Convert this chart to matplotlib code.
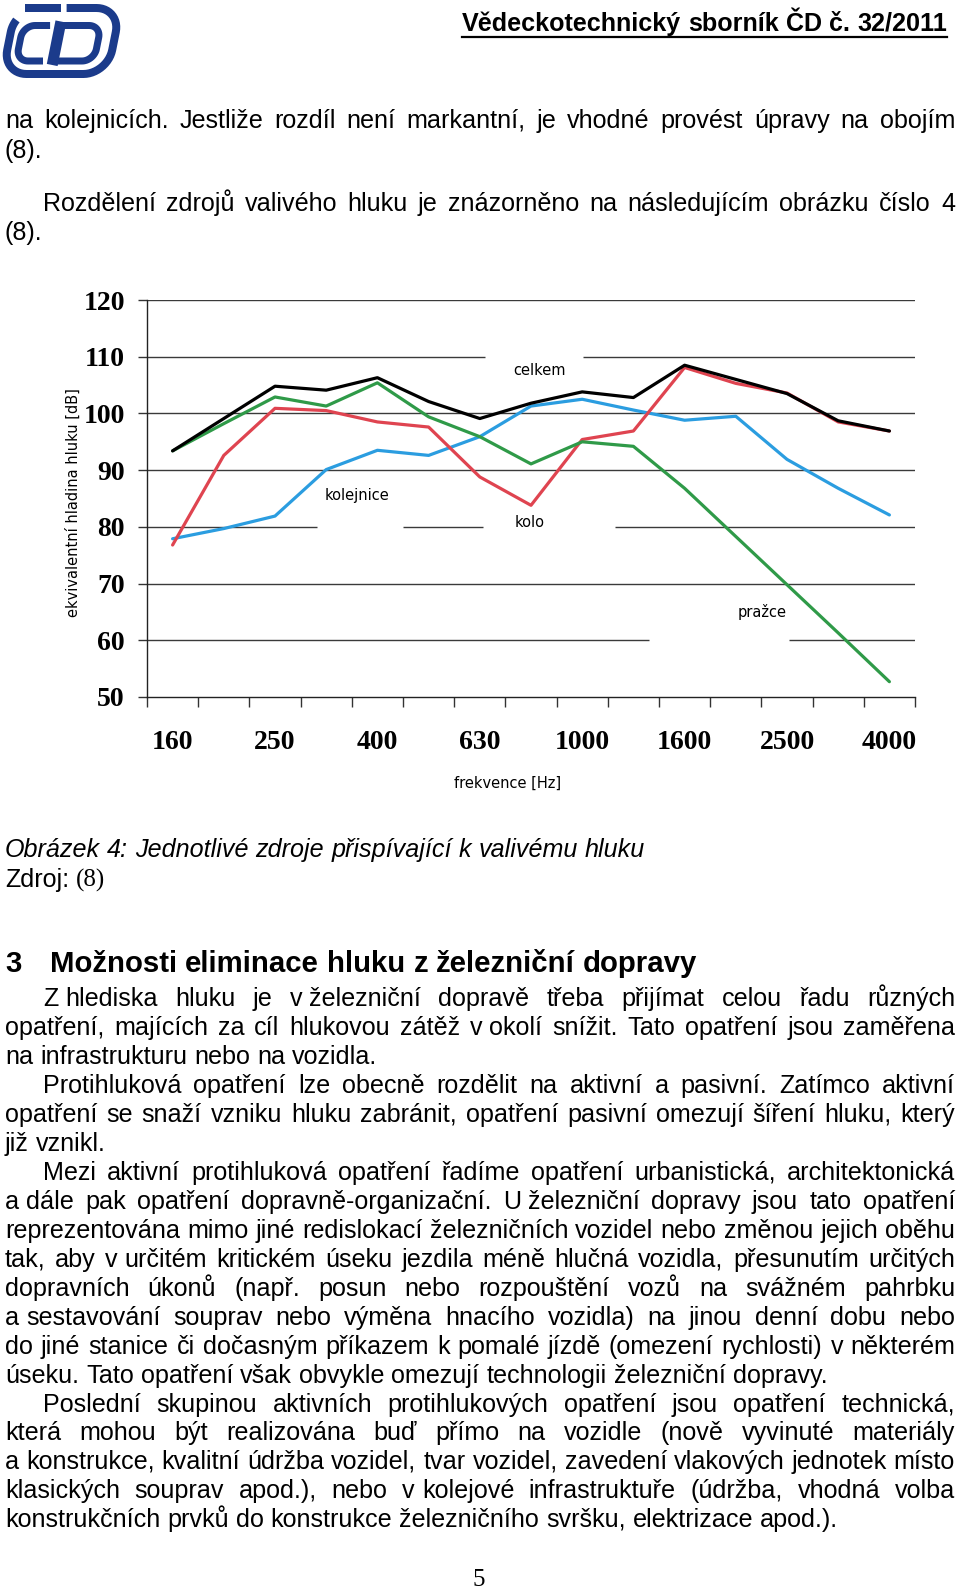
import numpy as np
import matplotlib.pyplot as plt
from matplotlib.path import Path
from matplotlib.patches import PathPatch
from matplotlib.backends.backend_agg import get_hinting_flag

W, H, DPI = 960, 1589, 100

# ---- chart data (dB per 1/3-octave band) ----
bands = ['160', '200', '250', '315', '400', '500', '630', '800',
         '1000', '1250', '1600', '2000', '2500', '3150', '4000']
celkem = [93.4, 99.1, 104.8, 104.1, 106.3, 102.1, 99.1, 101.8,
          103.8, 102.8, 108.5, 106.0, 103.5, 98.7, 96.9]
prazce = [93.4, 98.2, 102.9, 101.3, 105.4, 99.4, 95.9, 91.1,
          95.0, 94.2, 86.8, 78.3, 69.8, 61.3, 52.7]
kolo = [76.8, 92.6, 100.9, 100.5, 98.5, 97.6, 88.8, 83.8,
        95.4, 96.9, 108.1, 105.3, 103.6, 98.5, 96.9]
kolejnice = [77.9, 79.7, 81.9, 90.1, 93.5, 92.6, 95.9, 101.3,
             102.5, 100.6, 98.8, 99.5, 91.9, 86.8, 82.1]
y_ticks = [50, 60, 70, 80, 90, 100, 110, 120]
series_names = ['celkem', 'kolejnice', 'kolo', 'pražce']

# ---- page text ----
header = "Vědeckotechnický sborník ČD č. 32/2011"
top_paragraphs = [
    ["na kolejnicích. Jestliže rozdíl není markantní, je vhodné provést úpravy na obojím",
     "(8)."],
    ["Rozdělení zdrojů valivého hluku je znázorněno na následujícím obrázku číslo 4",
     "(8)."],
]
caption = "Obrázek 4: Jednotlivé zdroje přispívající k valivému hluku"
source_label, source_ref = "Zdroj:", "(8)"
heading_num, heading = "3", "Možnosti eliminace hluku z železniční dopravy"
body_paragraphs = [
    ["Z\u00a0hlediska hluku je v\u00a0železniční dopravě třeba přijímat celou řadu různých",
     "opatření, majících za cíl hlukovou zátěž v\u00a0okolí snížit. Tato opatření jsou zaměřena",
     "na infrastrukturu nebo na vozidla."],
    ["Protihluková opatření lze obecně rozdělit na aktivní a pasivní. Zatímco aktivní",
     "opatření se snaží vzniku hluku zabránit, opatření pasivní omezují šíření hluku, který",
     "již vznikl."],
    ["Mezi aktivní protihluková opatření řadíme opatření urbanistická, architektonická",
     "a\u00a0dále pak opatření dopravně-organizační. U\u00a0železniční dopravy jsou tato opatření",
     "reprezentována mimo jiné redislokací železničních vozidel nebo změnou jejich oběhu",
     "tak, aby v\u00a0určitém kritickém úseku jezdila méně hlučná vozidla, přesunutím určitých",
     "dopravních úkonů (např. posun nebo rozpouštění vozů na svážném pahrbku",
     "a\u00a0sestavování souprav nebo výměna hnacího vozidla) na jinou denní dobu nebo",
     "do jiné stanice či dočasným příkazem k\u00a0pomalé jízdě (omezení rychlosti) v\u00a0některém",
     "úseku. Tato opatření však obvykle omezují technologii železniční dopravy."],
    ["Poslední skupinou aktivních protihlukových opatření jsou opatření technická,",
     "která mohou být realizována buď přímo na vozidle (nově vyvinuté materiály",
     "a\u00a0konstrukce, kvalitní údržba vozidel, tvar vozidel, zavedení vlakových jednotek místo",
     "klasických souprav apod.), nebo v\u00a0kolejové infrastruktuře (údržba, vhodná volba",
     "konstrukčních prvků do konstrukce železničního svršku, elektrizace apod.)."],
]
page_number = "5"

SANS, SERIF = 'Liberation Sans', 'Liberation Serif'
BLUE_LOGO = '#1b3b8b'

fig = plt.figure(figsize=(W / DPI, H / DPI), dpi=DPI)
fig.patch.set_facecolor('white')
renderer = fig.canvas.get_renderer()


def fpos(x, y):
    return x / W, 1 - y / H


def width_of(s, **kw):
    t = fig.text(0, 0, s, **kw)
    w = t.get_window_extent(renderer=renderer).width
    t.remove()
    return w


def fit_size(s, target, base=18, **kw):
    return base * target / width_of(s, fontsize=base, **kw)


def word_text(x, y, s, **kw):
    # Agg rounds (baseline + descent) to whole pixels, so a word with a
    # half-pixel descent (trailing comma) lands one row low; put it back.
    # The 0.1 offset keeps that rounding away from .5 ties.
    yb = round(y) + 0.1
    t = fig.text(*fpos(x, yb), s, va='baseline', **kw)
    font = renderer._prepare_font(t.get_fontproperties())
    font.set_text(s, 0, flags=get_hinting_flag())
    d = font.get_descent() / 64
    ad = font.get_width_height()[1] / 64
    drawn = round(yb + d) - np.floor(ad) + np.floor(ad - d)
    shift = drawn - round(y)
    t.set_y(1 - (yb - shift) / H)
    return t


def put_line(s, y, x0, x1=None, justify=False, align='left', **kw):
    # every word is its own text; words tied by a no-break space keep a plain gap
    sp = width_of('x x', **kw) - width_of('xx', **kw)
    chunks = [c.split('\u00a0') for c in s.split(' ')]
    cw = [[width_of(w, **kw) for w in c] for c in chunks]
    chunk_w = [sum(ws) + sp * (len(ws) - 1) for ws in cw]
    if justify and len(chunks) > 1:
        gap = (x1 - x0 - sum(chunk_w)) / (len(chunks) - 1)
    else:
        gap = sp
    total = sum(chunk_w) + gap * (len(chunks) - 1)
    x = x0 - total if align == 'right' else x0
    for c, ws, wc in zip(chunks, cw, chunk_w):
        xx = x
        for w, wd in zip(c, ws):
            word_text(xx, y, w, **kw)
            xx += wd + sp
        x += wc + gap
    return total


LEFT, RIGHT, INDENT = 5, 955, 38
body_fs = fit_size(body_paragraphs[-1][-1], 832, family=SANS)
body_kw = dict(fontsize=body_fs, family=SANS, color='black')


def put_paragraph(lines, y0, step, indent=True):
    for i, s in enumerate(lines):
        x0 = LEFT + (INDENT if (indent and i == 0) else 0)
        put_line(s, y0 + i * step, x0, RIGHT, i < len(lines) - 1, **body_kw)


# ---- logo ----
lax = fig.add_axes([0, 1 - 85 / H, 125 / W, 85 / H])
lax.set_xlim(0, 125)
lax.set_ylim(85, 0)
lax.axis('off')


def arc(cx, cy, r, a0, a1, n=14):
    a = np.radians(np.linspace(a0, a1, n))
    return list(zip(cx + r * np.cos(a), cy - r * np.sin(a)))


def skewed(pts, k=0.2, ymid=41):
    return [(x + k * (ymid - y), y) for x, y in pts]


def stroke(pts, lw_px):
    p = Path(skewed(pts))
    lax.add_patch(PathPatch(p, fill=False, edgecolor=BLUE_LOGO, lw=lw_px * 0.72,
                            capstyle='butt', joinstyle='round'))


ring = [(60, 8)] + arc(90, 32, 24, 90, 0) + arc(90, 50, 24, 0, -90) \
    + arc(33, 50, 24, -90, -180) + arc(33, 32, 24, 180, 150)
stroke(ring, 8)
stroke([(18, 8), (54, 8)], 8)
c_letter = [(47, 25.5)] + arc(32, 37.5, 12, 90, 180) + arc(32, 49, 12, 180, 270) + [(47, 61)]
stroke(c_letter, 7)
stroke([(57, 21.5), (57, 65)], 11)
d_letter = [(57, 25.5)] + arc(86, 37.5, 12, 90, 0) + arc(86, 49, 12, 0, -90) + [(57, 61)]
stroke(d_letter, 7)

# ---- header ----
hdr_kw = dict(fontsize=fit_size(header, 486, family=SANS, weight='bold'),
              family=SANS, weight='bold')
hdr_w = put_line(header, 31, 947, align='right', **hdr_kw)
fig.add_artist(plt.Line2D([(947 - hdr_w) / W, 947 / W], [1 - 37 / H, 1 - 37 / H],
                          color='black', lw=1.6))

# ---- text above the chart ----
put_paragraph(top_paragraphs[0], 128.5, 29, indent=False)
put_paragraph(top_paragraphs[1], 211, 29, indent=True)

# ---- chart ----
ax = fig.add_axes([147 / W, 1 - 697 / H, 768 / W, 397 / H])
xs = np.arange(len(bands))
styles = [(kolejnice, '#2b9de0'), (kolo, '#df4450'), (prazce, '#2f9a48'), (celkem, 'black')]
for vals, col in styles:
    ax.plot(xs, vals, color=col, lw=2.3, solid_joinstyle='round',
            solid_capstyle='round', zorder=3)

ax.set_xlim(-0.5, len(bands) - 0.5)
ax.set_ylim(y_ticks[0], y_ticks[-1])

# gridlines with the breaks seen in the scan (in band-index units)
grid_gaps = {110: [(6.10, 8.02)], 80: [(2.82, 4.50), (6.06, 8.64)], 60: [(9.30, 12.04)]}
for yv in y_ticks[1:]:
    start = -0.5
    segs = []
    for a, b in grid_gaps.get(yv, []):
        segs.append((start, a))
        start = b
    segs.append((start, len(bands) - 0.5))
    for a, b in segs:
        ax.hlines(yv, a, b, color='#3a3a3a', lw=1.0, zorder=1)

for side in ['top', 'right']:
    ax.spines[side].set_visible(False)
for side in ['left', 'bottom']:
    ax.spines[side].set_linewidth(1.0)
    ax.spines[side].set_color('#222222')

ax.set_yticks(y_ticks)
ax.tick_params(axis='y', length=6.5, width=1.0, color='#333333', pad=9.5,
               labelsize=20)
ax.set_xticks(xs[::2])
ax.set_xticklabels(bands[::2])
ax.set_xticks(np.arange(-0.5, len(bands), 1), minor=True)
ax.tick_params(axis='x', which='major', length=0, pad=24, labelsize=20)
ax.tick_params(axis='x', which='minor', length=7, width=1.0, color='#333333')
for lbl in ax.get_xticklabels() + ax.get_yticklabels():
    lbl.set_fontfamily(SERIF)
    lbl.set_fontweight('bold')

ax.set_ylabel('ekvivalentní hladina hluku [dB]', fontsize=10.5,
              family='DejaVu Sans', va='center')
ax.yaxis.set_label_coords(-0.0964, 0.489)
ax.set_xlabel('frekvence [Hz]', fontsize=10.5, family='DejaVu Sans', va='center')
ax.xaxis.set_label_coords(0.47, -0.2166)

label_pos = [(7.17, 107.6), (3.60, 85.6), (6.98, 80.8), (11.51, 65.0)]
for name, (lx, ly) in zip(series_names, label_pos):
    ax.text(lx, ly, name, ha='center', va='center', fontsize=10.5,
            family='DejaVu Sans', zorder=4)

# ---- caption ----
cap_fs = fit_size(caption, 639, family=SANS, style='italic')
put_line(caption, 857, LEFT, fontsize=cap_fs, family=SANS, style='italic')
fig.text(*fpos(LEFT, 887), source_label, va='baseline', fontsize=cap_fs, family=SANS)
fig.text(*fpos(76, 887), source_ref, va='baseline', fontsize=18, family=SERIF)

# ---- section heading ----
head_kw = dict(fontsize=fit_size(heading, 647, family=SANS, weight='bold'),
               family=SANS, weight='bold')
fig.text(*fpos(LEFT, 972), heading_num, va='baseline', **head_kw)
put_line(heading, 972, 50, **head_kw)

# ---- body ----
LINE = 28.93
row = 0
for para in body_paragraphs:
    put_paragraph(para, 1006.5 + row * LINE, LINE)
    row += len(para)

fig.text(*fpos(479, 1586), page_number, ha='center', va='baseline',
         fontsize=18, family=SERIF)

fig.savefig('out.png', dpi=DPI, facecolor='white')
